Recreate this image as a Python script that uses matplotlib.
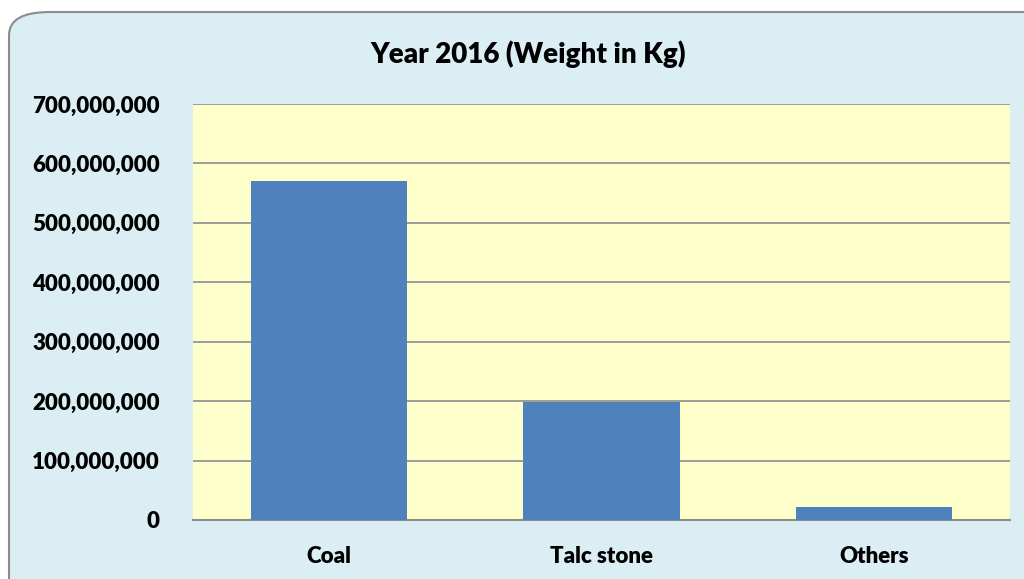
import matplotlib
matplotlib.use('Agg')
import matplotlib.pyplot as plt
from matplotlib.patches import FancyBboxPatch

# Valores (peso em kg, ano 2016)
categories = ["Coal", "Talc stone", "Others"]
weights = [571000000, 199000000, 22000000]
y_ticks = [0, 100000000, 200000000, 300000000, 400000000, 500000000, 600000000, 700000000]

plt.rcParams['font.family'] = ['Lato', 'DejaVu Sans']

fig = plt.figure(figsize=(10.24, 5.79), dpi=100)
fig.patch.set_facecolor('white')

# Caixa arredondada de fundo
box = FancyBboxPatch((9 / 1024, -0.1), 1.2, 1.1 - 12 / 579,
                     boxstyle="round,pad=0,rounding_size=0.04",
                     transform=fig.transFigure, facecolor='#DAEEF3',
                     edgecolor='#8C8C8C', linewidth=1.5, zorder=-1)
fig.patches.append(box)

ax = fig.add_axes([193 / 1024, 1 - 520 / 579, 817 / 1024, 416 / 579])
ax.set_zorder(1)
ax.set_facecolor('#FFFFCC')

x = list(range(len(categories)))
ax.bar(x, weights, width=0.575, color='#4F81BD', zorder=3)

ax.set_ylim(0, 700000000)
ax.set_xlim(-0.5, 2.5)
ax.set_yticks(y_ticks, [f"{v:,}" for v in y_ticks], fontweight='heavy', fontsize=16)
ax.set_xticks(x, categories, fontweight='heavy', fontsize=16)
ax.grid(axis='y', color='#8C8C8C', linewidth=1.2, zorder=1)

for s in ['top', 'right', 'left']:
    ax.spines[s].set_visible(False)
ax.spines['bottom'].set_color('#8C8C8C')
ax.spines['bottom'].set_linewidth(1.5)
ax.tick_params(axis='both', length=0)
ax.tick_params(axis='y', pad=24)
ax.tick_params(axis='x', pad=19)

fig.text(528 / 1024, 1 - 54 / 579, "Year 2016 (Weight in Kg)", ha='center', va='center',
         fontsize=20, fontweight='heavy')

plt.savefig('out.png', dpi=100)
plt.close()
